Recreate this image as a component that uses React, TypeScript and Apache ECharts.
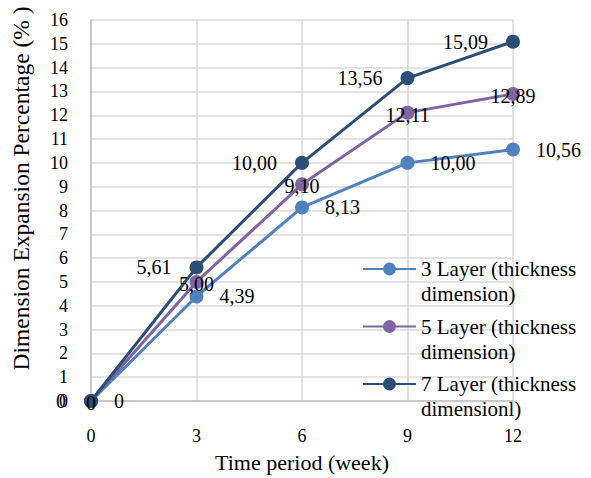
import React, { useEffect, useRef } from "react";
import * as echarts from "echarts";

const weeks = [0, 3, 6, 9, 12];
const layer3 = [0, 4.39, 8.13, 10.0, 10.56];
const layer5 = [0, 5.0, 9.1, 12.11, 12.89];
const layer7 = [0, 5.61, 10.0, 13.56, 15.09];
const seriesNames = [
  "3 Layer (thickness\ndimension)",
  "5 Layer (thickness\ndimension)",
  "7 Layer (thickness\ndimensionl)",
];
const seriesColors = ["#4F81BD", "#8064A2", "#2C4D75"];
const xTitle = "Time period (week)";
const yTitle = "Dimension Expansion Percentage (% )";

const FONT = '"Liberation Serif", "Times New Roman", serif';

const fmt = (p: any) => {
  const v = p.value[1];
  return v === 0 ? "0" : v.toFixed(2).replace(".", ",");
};

export default function App() {
  const ref = useRef<HTMLDivElement>(null);
  useEffect(() => {
    if (!ref.current) return;
    const chart = echarts.init(ref.current, null, { renderer: "svg" });
    const values = [layer3, layer5, layer7];
    const labelCfg = [
      { position: "right", distance: 16 },
      { position: "inside", offset: [0, 2] },
      { position: "left", distance: 18 },
    ];
    chart.setOption({
      animation: false,
      backgroundColor: "#ffffff",
      textStyle: { fontFamily: FONT },
      grid: { left: 91, right: 78, top: 20, bottom: 71 },
      xAxis: {
        type: "value",
        min: 0,
        max: 12,
        interval: 3,
        name: xTitle,
        nameLocation: "middle",
        nameGap: 50,
        nameTextStyle: { fontSize: 22, color: "#000", fontFamily: FONT },
        axisLine: { show: true, lineStyle: { color: "#BFBFBF", width: 1.5 } },
        axisTick: { show: false },
        axisLabel: { fontSize: 18, color: "#000", margin: 26, fontFamily: FONT },
        splitLine: { show: true, lineStyle: { color: "#D9D9D9", width: 1.5 } },
      },
      yAxis: {
        type: "value",
        min: 0,
        max: 16,
        interval: 1,
        name: yTitle,
        nameLocation: "middle",
        nameGap: 58,
        nameTextStyle: {
          fontSize: 23.5,
          color: "#000",
          fontFamily: FONT,
          padding: [0, 0, 0, 44],
        },
        axisLine: { show: true, lineStyle: { color: "#BFBFBF", width: 1.5 } },
        axisTick: { show: false },
        axisLabel: { fontSize: 18, color: "#000", margin: 23, fontFamily: FONT },
        splitLine: { show: true, lineStyle: { color: "#D9D9D9", width: 1.5 } },
      },
      legend: {
        orient: "vertical",
        left: 362,
        top: 231.5,
        padding: 0,
        itemWidth: 53,
        itemHeight: 16,
        itemGap: -17.5,
        data: seriesNames,
        formatter: (name: string) => "\n" + name,
        textStyle: {
          fontSize: 21,
          lineHeight: 25,
          color: "#000",
          fontFamily: FONT,
        },
      },
      series: seriesNames.map((name, si) => ({
        type: "line",
        name,
        data: weeks.map((w, i) => [w, values[si][i]]),
        symbol: "circle",
        symbolSize: 14,
        color: seriesColors[si],
        lineStyle: { width: 3, color: seriesColors[si] },
        itemStyle: { color: seriesColors[si] },
        label: {
          show: true,
          ...labelCfg[si],
          formatter: fmt,
          fontSize: 20,
          color: "#000",
          fontFamily: FONT,
        },
      })),
    });
    return () => chart.dispose();
  }, []);
  return (
    <div
      ref={ref}
      style={{ position: "fixed", left: 0, top: 0, width: 591, height: 478, background: "#fff" }}
    />
  );
}
